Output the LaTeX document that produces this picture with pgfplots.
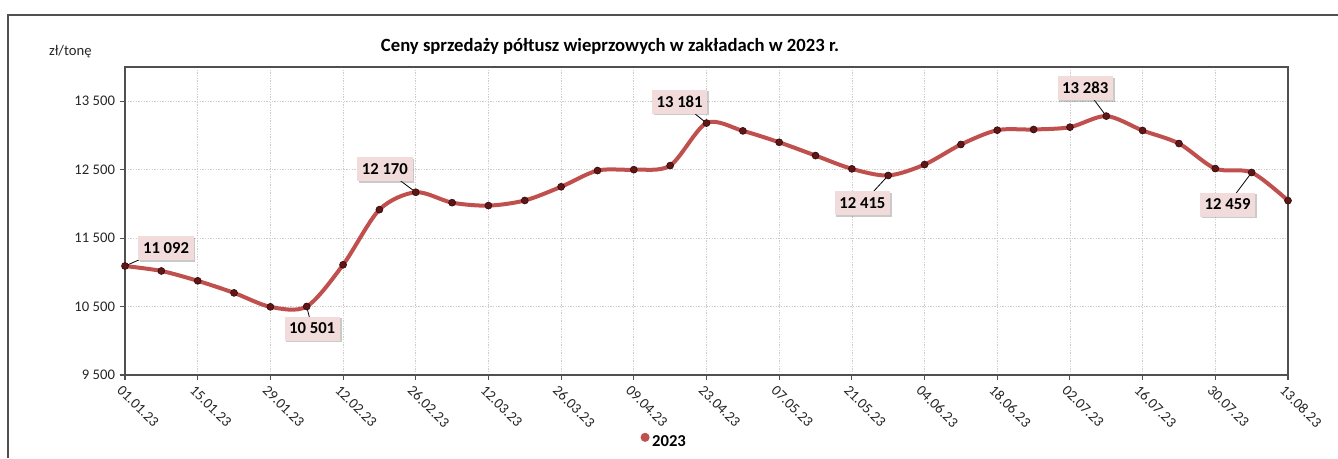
\documentclass[border=0pt]{standalone}
\usepackage{fontspec}
\setmainfont{Carlito}
\usepackage{pgfplots}
\pgfplotsset{compat=1.18}
\usetikzlibrary{shadows}
\definecolor{linered}{RGB}{192,80,77}
\definecolor{markdark}{RGB}{95,22,22}
\definecolor{boxpink}{RGB}{242,220,219}
\definecolor{gridgray}{RGB}{205,205,205}
\definecolor{framegray}{RGB}{80,80,80}
\tikzset{callout/.style={fill=boxpink, font=\bfseries\fontsize{12.5}{14}\selectfont,
  inner xsep=3.5pt, minimum height=18pt,
  drop shadow={shadow xshift=1.3pt, shadow yshift=-1.3pt, opacity=0.35, fill=black!60}}}

\begin{document}
\begin{tikzpicture}[x=0.75pt,y=0.75pt]
\begin{axis}[
  at={(93.75pt,62.25pt)}, anchor=south west,
  scale only axis, width=872.25pt, height=231pt,
  xmin=0, xmax=32, ymin=9500, ymax=14000,
  scaled y ticks=false,
  xtick={0,2,...,32},
  xticklabels={01.01.23,15.01.23,29.01.23,12.02.23,26.02.23,12.03.23,26.03.23,09.04.23,23.04.23,07.05.23,21.05.23,04.06.23,18.06.23,02.07.23,16.07.23,30.07.23,13.08.23},
  ytick={9500,10500,11500,12500,13500},
  yticklabels={9 500,10 500,11 500,12 500,13 500},
  tick pos=left, tick align=outside, major tick length=4pt,
  tick style={framegray, line width=0.8pt},
  axis line style={framegray, line width=0.8pt},
  grid=major,
  major grid style={gridgray, dash pattern=on 1pt off 1pt, line width=0.5pt},
  yticklabel style={font=\fontsize{11}{13}\selectfont, text=black!85},
  xticklabel style={rotate=-45, anchor=north west, font=\fontsize{11}{13}\selectfont, text=black!85, inner sep=1pt, yshift=-2pt},
  clip=false,
  legend style={at={(0.464,-0.2175)}, anchor=center, draw=none, fill=none,
    font=\bfseries\fontsize{12.5}{15}\selectfont, inner sep=0pt},
  legend image code/.code={\fill[linered] (1pt,0.35em) circle (1.8pt);},
]
\addplot[linered, line width=3pt, smooth, tension=0.5,
  mark=*, mark size=2.6pt,
  mark options={fill=markdark, draw=markdark!60!black, line width=0.5pt}]
  coordinates {
  (0,11092) (1,11020) (2,10876) (3,10700) (4,10496) (5,10501) (6,11110) (7,11916)
  (8,12170) (9,12018) (10,11975) (11,12050) (12,12250) (13,12487) (14,12500) (15,12560)
  (16,13181) (17,13067) (18,12900) (19,12706) (20,12512) (21,12415) (22,12575) (23,12868)
  (24,13077) (25,13087) (26,13121) (27,13283) (28,13072) (29,12882) (30,12516) (31,12459)
  (32,12048)
  };
\legend{2023}

\draw[black, line width=0.6pt] (axis cs:0,11092) -- (axis cs:1.13,11356);
\draw[black, line width=0.6pt] (axis cs:5,10501) -- (axis cs:5.15,10179);
\draw[black, line width=0.6pt] (axis cs:8,12170) -- (axis cs:7.15,12510);
\draw[black, line width=0.6pt] (axis cs:16,13181) -- (axis cs:15.26,13496);
\draw[black, line width=0.6pt] (axis cs:21,12415) -- (axis cs:20.29,12006);
\draw[black, line width=0.6pt] (axis cs:27,13283) -- (axis cs:26.42,13693);
\draw[black, line width=0.6pt] (axis cs:31,12459) -- (axis cs:30.34,11991);

\node[callout] at (axis cs:1.13,11356) {11 092};
\node[callout] at (axis cs:5.15,10179) {10 501};
\node[callout] at (axis cs:7.15,12510) {12 170};
\node[callout] at (axis cs:15.26,13496) {13 181};
\node[callout] at (axis cs:20.29,12006) {12 415};
\node[callout] at (axis cs:26.42,13693) {13 283};
\node[callout] at (axis cs:30.34,11991) {12 459};

\node[font=\bfseries\fontsize{14}{16}\selectfont] at (rel axis cs:0.417,1.068)
  {Ceny sprzedaży półtusz wieprzowych w zakładach w 2023 r.};
\node[font=\fontsize{11}{13}\selectfont, text=black!85] at (rel axis cs:-0.047,1.049) {zł/tonę};
\end{axis}
\draw[framegray, line width=1.1pt] (8,0) -- (8,443) -- (1338,443);
\pgfresetboundingbox
\useasboundingbox (0,0) rectangle (1338,458);
\end{tikzpicture}
\end{document}
